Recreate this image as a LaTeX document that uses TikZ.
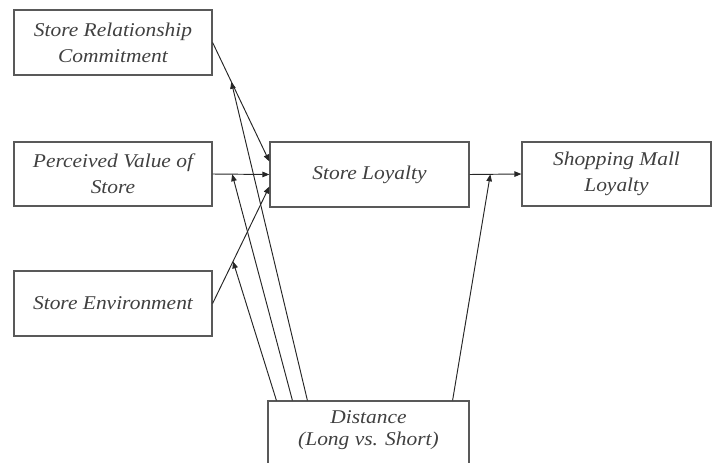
\documentclass[tikz,border=0pt]{standalone}
\usepackage{fontspec}
\setmainfont{Liberation Serif}[FakeStretch=1.1]
\usetikzlibrary{arrows.meta,calc}
\begin{document}
\begin{tikzpicture}[x=1pt,y=-1pt,
  box/.style={draw=black!65, line width=1.2pt, align=center, inner sep=0pt,
    font=\fontsize{19.5}{26}\selectfont\itshape, text=black!75},
  arr/.style={-{Triangle[length=7pt,width=5.5pt]}, line width=0.95pt, draw=black!85}]
\useasboundingbox (0,0) rectangle (712,463);
\clip (0,0) rectangle (712,463);
\node[box, minimum width=198pt, minimum height=65pt] (src) at (113,42.5) {Store Relationship\\Commitment};
\node[box, minimum width=198pt, minimum height=64pt] (pvs) at (113,174) {Perceived Value of\\Store};
\node[box, minimum width=198pt, minimum height=65pt] (se) at (113,303.5) {Store Environment};
\node[box, minimum width=199pt, minimum height=65pt] (sl) at (369.5,174.5) {Store Loyalty};
\node[box, minimum width=189pt, minimum height=64pt] (sml) at (616.5,174) {Shopping Mall\\Loyalty};
\node[box, minimum width=201pt, minimum height=72pt] (dist) at (368.5,437) {};
\node[font=\fontsize{19.5}{21.5}\selectfont\itshape, text=black!75, align=center] (disttext) at (368.5,430) {Distance\\(Long vs. Short)};
% main paths
\draw[arr] (src.east) -- coordinate[pos=0.33] (m1) ($(sl.west)+(0,-13)$);
\draw[arr] (pvs.east) -- coordinate[pos=0.345] (m2) (sl.west);
\draw[arr] (se.east) -- coordinate[pos=0.36] (m3) ($(sl.west)+(0,12)$);
\draw[arr] (sl.east) -- coordinate[pos=0.4] (m4) (sml.west);
% moderating paths
\draw[arr] ($(dist.north west)+(9,0)$) -- (m3);
\draw[arr] ($(dist.north west)+(25,0)$) -- (m2);
\draw[arr] ($(dist.north west)+(40,0)$) -- (m1);
\draw[arr] ($(dist.north east)+(-17,0)$) -- (m4);
\end{tikzpicture}
\end{document}
